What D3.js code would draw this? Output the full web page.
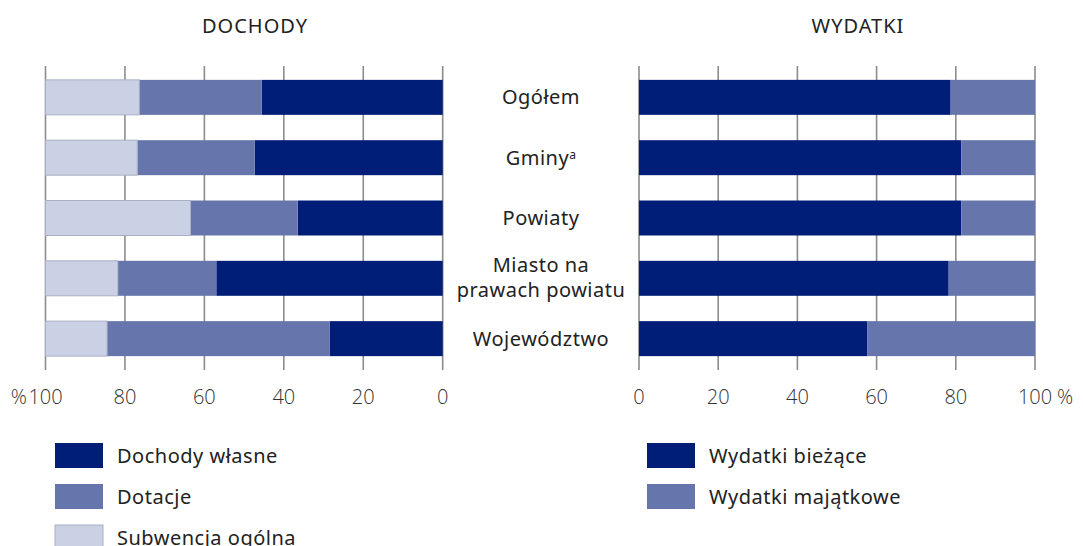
<!DOCTYPE html>
<html>
<head>
<meta charset="utf-8">
<script src="https://cdn.jsdelivr.net/npm/d3@7"></script>
<style>
  body { margin: 0; background: #fff; }
  svg { display: block; }
  text { font-family: "Noto Sans", sans-serif; fill: #222; letter-spacing: 0.5px; }
  .tick-lbl { font-family: "Open Sans", sans-serif; font-weight: 300; fill: #333; letter-spacing: 0; }
</style>
</head>
<body>
<div id="chart"></div>
<script>
// categories (top to bottom)
var categories = ["Ogółem", "Gminy", "Powiaty", "Miasto na prawach powiatu", "Województwo"];

// DOCHODY (%)
var dochodyWlasne = [45.6, 47.3, 36.5, 57.0, 28.5];
var dotacje       = [30.8, 29.6, 27.0, 24.8, 56.0];
var subwencja     = [23.6, 23.1, 36.5, 18.2, 15.5];

// WYDATKI (%)
var wydatkiBiezace   = [78.7, 81.4, 81.4, 78.2, 57.7];
var wydatkiMajatkowe = [21.3, 18.6, 18.6, 21.8, 42.3];

var ticks = [0, 20, 40, 60, 80, 100];

var colDark = "#001e77", colMid = "#6675ab", colLight = "#cbd1e4";

var width = 1083, height = 546;

var svg = d3.select("#chart").append("svg")
    .attr("width", width)
    .attr("height", height);

//band scale shared by both panels
var y = d3.scaleBand()
    .domain(categories)
    .range([66, 370])
    .paddingInner(0.42)
    .paddingOuter(0.23);

var xLeft = d3.scaleLinear().domain([100, 0]).range([45.5, 442.7]);
var xRight = d3.scaleLinear().domain([0, 100]).range([639, 1035]);

function grid(x) {
  svg.append("g").selectAll("line")
    .data(ticks).enter()
    .append("line")
      .attr("x1", function(d) { return x(d); })
      .attr("x2", function(d) { return x(d); })
      .attr("y1", 66).attr("y2", 370)
      .attr("stroke", "#8c8c8c")
      .attr("stroke-width", 1.6);

  svg.append("g").selectAll("text")
    .data(ticks).enter()
    .append("text")
      .attr("class", "tick-lbl")
      .attr("x", function(d) { return x(d); })
      .attr("y", 404)
      .attr("text-anchor", "middle")
      .style("font-size", "20px")
      .text(function(d) { return d; });
}

grid(xLeft);
grid(xRight);

svg.append("text").attr("class", "tick-lbl")
  .attr("x", 27).attr("y", 404).attr("text-anchor", "end")
  .style("font-size", "20px").text("%");
svg.append("text").attr("class", "tick-lbl")
  .attr("x", 1057).attr("y", 404).attr("text-anchor", "start")
  .style("font-size", "20px").text("%");

// left stacked bars
var leftRows = categories.map(function(c, i) {
  return {cat: c, wlasne: dochodyWlasne[i], dotacje: dotacje[i], subwencja: subwencja[i]};
});
var leftColors = {wlasne: colDark, dotacje: colMid, subwencja: colLight};
var leftStack = d3.stack().keys(["wlasne", "dotacje", "subwencja"])(leftRows);

svg.append("g").selectAll("g")
  .data(leftStack).enter()
  .append("g")
    .attr("fill", function(s) { return leftColors[s.key]; })
    .attr("stroke", function(s) { return s.key == "subwencja" ? "#aab0c4" : "none"; })
  .selectAll("rect")
  .data(function(s) { return s; }).enter()
  .append("rect")
    .attr("x", function(d) { return xLeft(d[1]); })
    .attr("width", function(d) { return xLeft(d[0]) - xLeft(d[1]); })
    .attr("y", function(d) { return y(d.data.cat); })
    .attr("height", y.bandwidth());

// right stacked bars
var rightRows = categories.map(function(c, i) {
  return {cat: c, biezace: wydatkiBiezace[i], majatkowe: wydatkiMajatkowe[i]};
});
var rightColors = {biezace: colDark, majatkowe: colMid};
var rightStack = d3.stack().keys(["biezace", "majatkowe"])(rightRows);

svg.append("g").selectAll("g")
  .data(rightStack).enter()
  .append("g")
    .attr("fill", function(s) { return rightColors[s.key]; })
  .selectAll("rect")
  .data(function(s) { return s; }).enter()
  .append("rect")
    .attr("x", function(d) { return xRight(d[0]); })
    .attr("width", function(d) { return xRight(d[1]) - xRight(d[0]); })
    .attr("y", function(d) { return y(d.data.cat); })
    .attr("height", y.bandwidth());

// category labels in the middle
var lab = svg.append("g").selectAll("text")
  .data(categories).enter()
  .append("text")
    .attr("x", 541)
    .attr("y", function(d) { return y(d) + y.bandwidth() / 2; })
    .attr("text-anchor", "middle")
    .style("font-size", "20px");

lab.each(function(d) {
  var t = d3.select(this);
  if (d == "Miasto na prawach powiatu") {
    t.append("tspan").attr("x", 541).attr("dy", "-0.3em").text("Miasto na");
    t.append("tspan").attr("x", 541).attr("dy", "1.25em").text("prawach powiatu");
  } else if (d == "Gminy") {
    t.attr("dy", "0.35em");
    t.append("tspan").text("Gminy");
    t.append("tspan").attr("dy", "-0.5em").style("font-size", "12px").text("a");
  } else {
    t.attr("dy", "0.35em").text(d);
  }
});

// titles
svg.append("text").attr("x", 255).attr("y", 33).attr("text-anchor", "middle")
  .style("font-size", "20px").style("letter-spacing", "1px").text("DOCHODY");
svg.append("text").attr("x", 858).attr("y", 33).attr("text-anchor", "middle")
  .style("font-size", "20px").style("letter-spacing", "1px").text("WYDATKI");

// legends
var legLeft = ["Dochody własne", "Dotacje", "Subwencja ogólna"];
var legLeftCol = [colDark, colMid, colLight];
var legRight = ["Wydatki bieżące", "Wydatki majątkowe"];
var legRightCol = [colDark, colMid];

function legend(items, cols, x0) {
  var g = svg.append("g").selectAll("g")
    .data(items).enter()
    .append("g")
      .attr("transform", function(d, i) { return "translate(" + x0 + "," + (443 + i * 41) + ")"; });
  g.append("rect")
    .attr("width", 48).attr("height", 25)
    .attr("fill", function(d, i) { return cols[i]; })
    .attr("stroke", function(d, i) { return cols[i] == colLight ? "#aab0c4" : "none"; });
  g.append("text")
    .attr("x", 62).attr("y", 13).attr("dy", "0.35em")
    .style("font-size", "20px")
    .text(function(d) { return d; });
}

legend(legLeft, legLeftCol, 55);
legend(legRight, legRightCol, 647);
</script>
</body>
</html>
